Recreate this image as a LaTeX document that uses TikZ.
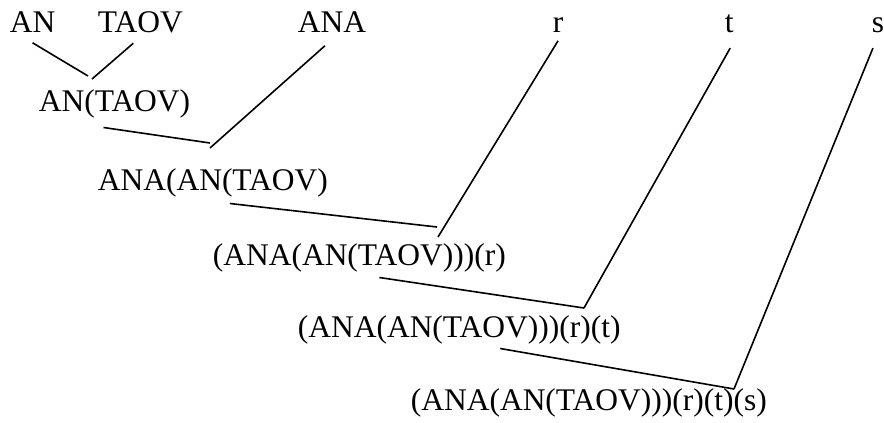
\documentclass[tikz,border=0pt]{standalone}
\usepackage{fontspec}
\setmainfont{Liberation Serif}
\usetikzlibrary{arrows.meta}

\begin{document}
\begin{tikzpicture}[x=1pt, y=-1pt, line width=1.6pt,
    term/.style={inner sep=0pt, anchor=base west, font=\fontsize{31.5}{36}\selectfont}]
    \useasboundingbox (0,0) rectangle (884,423);
    % leaves
    \node[term] (an) at (9,32) {AN};
    \node[term] (taov) at (97,32) {TAOV};
    \node[term] (ana) at (297,32) {ANA};
    \node[term] (r) at (552,32) {r};
    \node[term] (t) at (724,32) {t};
    \node[term] (s) at (871,32) {s};
    % compositions
    \node[term] (antaov) at (38,111) {AN(TAOV)};
    \node[term] (app1) at (97,190) {ANA(AN(TAOV)};
    \node[term] (app2) at (212,265) {(ANA(AN(TAOV)))(r)};
    \node[term] (app3) at (297,337) {(ANA(AN(TAOV)))(r)(t)};
    \node[term] (app4) at (410,410) {(ANA(AN(TAOV)))(r)(t)(s)};
    % junctions
    \coordinate (j1) at (90,76);
    \coordinate (j2) at (210,145);
    \coordinate (j3) at (438,230);
    \coordinate (j4) at (584,308);
    \coordinate (j5) at (734,389);
    \draw ([yshift=-10pt]an.south) -- ([xshift=-2pt]j1);
    \draw ([xshift=-7pt,yshift=-10pt]taov.south) -- ([xshift=2pt,yshift=-3pt]j1);
    \draw ([xshift=-11pt,yshift=-9pt]antaov.south) -- ([yshift=2pt]j2);
    \draw ([xshift=-7pt,yshift=-13pt]ana.south) -- ([yshift=-3pt]j2);
    \draw ([xshift=17pt,yshift=-6pt]app1.south) -- ([xshift=-1pt,yshift=3pt]j3);
    \draw ([yshift=-8pt]r.south) -- ([yshift=-7pt]j3);
    \draw ([xshift=20pt,yshift=-5pt]app2.south) -- (j4);
    \draw ([xshift=1pt,yshift=-15pt]t.south) -- (j4);
    \draw ([xshift=41pt,yshift=-4pt]app3.south) -- (j5);
    \draw ([xshift=-5pt,yshift=-15pt]s.south) -- (j5);
\end{tikzpicture}
\end{document}
